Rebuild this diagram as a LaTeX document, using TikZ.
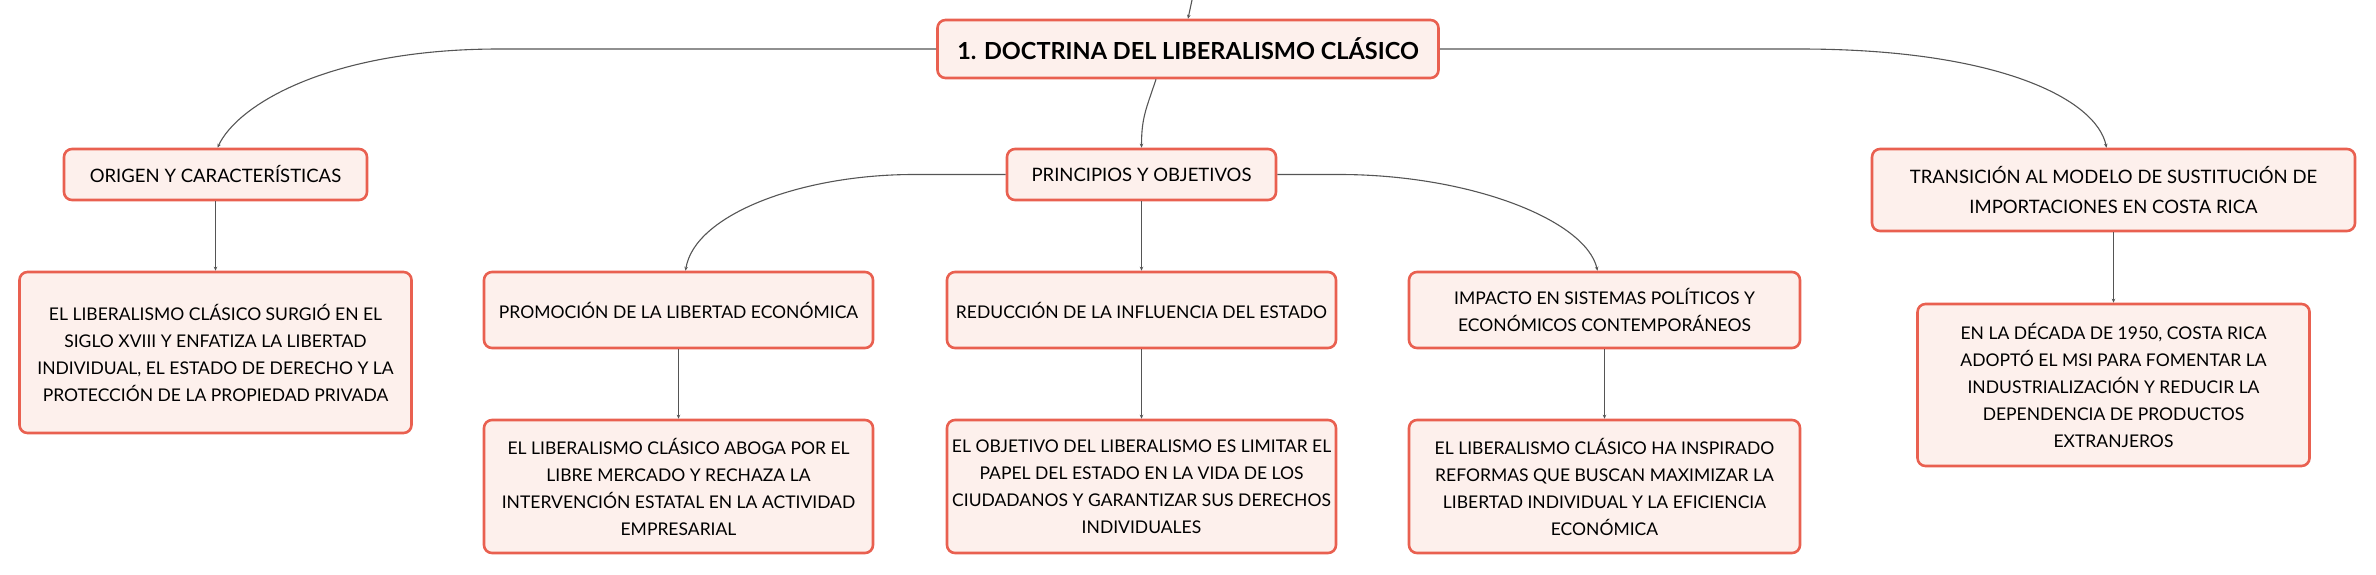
\documentclass[tikz,border=0pt]{standalone}
\usepackage{fontspec}
\setmainfont{Lato}
\definecolor{map_border}{RGB}{233, 96, 80}
\definecolor{map_fill}{RGB}{253, 240, 236}
\definecolor{map_line}{RGB}{85, 85, 85}
\usetikzlibrary{arrows.meta, calc}

\begin{document}
\begin{tikzpicture}[x=1pt, y=-1pt,
        box/.style={rectangle, rounded corners=8pt, draw=map_border, fill=map_fill,
                    line width=2.6pt, align=center, inner sep=0pt,
                    font=\fontsize{17.5}{27}\selectfont},
        link/.style={-{Stealth[length=4pt, width=3.5pt]}, line width=1.1pt, map_line},
      ]
        \useasboundingbox (0,0) rectangle (2376,574);

        \node[box, minimum width=501pt, minimum height=58pt,
              font=\fontsize{23.5}{28}\selectfont\bfseries] (root) at (1188,49)
          {1. DOCTRINA DEL LIBERALISMO CLÁSICO};

        % Second level
        \node[box, minimum width=303pt, minimum height=51pt,
              font=\fontsize{18.5}{27}\selectfont] (orig) at (215.5,174.5)
          {ORIGEN Y CARACTERÍSTICAS};
        \node[box, minimum width=269pt, minimum height=51pt,
              font=\fontsize{18.5}{27}\selectfont] (prin) at (1141.5,174.5)
          {PRINCIPIOS Y OBJETIVOS};
        \node[box, minimum width=483pt, minimum height=82pt,
              font=\fontsize{18.5}{30}\selectfont] (trans) at (2113.5,190)
          {TRANSICIÓN AL MODELO DE SUSTITUCIÓN DE\\IMPORTACIONES EN COSTA RICA};

        % Third level
        \node[box, minimum width=389pt, minimum height=76pt] (prom) at (678.5,310)
          {PROMOCIÓN DE LA LIBERTAD ECONÓMICA};
        \node[box, minimum width=389pt, minimum height=76pt] (redu) at (1141.5,310)
          {REDUCCIÓN DE LA INFLUENCIA DEL ESTADO};
        \node[box, minimum width=391pt, minimum height=76pt] (impa) at (1604.5,310)
          {IMPACTO EN SISTEMAS POLÍTICOS Y\\ECONÓMICOS CONTEMPORÁNEOS};

        % Texts
        \node[box, minimum width=392pt, minimum height=161pt] (origT) at (215.5,352.5)
          {EL LIBERALISMO CLÁSICO SURGIÓ EN EL\\SIGLO XVIII Y ENFATIZA LA LIBERTAD\\
           INDIVIDUAL, EL ESTADO DE DERECHO Y LA\\PROTECCIÓN DE LA PROPIEDAD PRIVADA};
        \node[box, minimum width=389pt, minimum height=133pt] (promT) at (678.5,486.5)
          {EL LIBERALISMO CLÁSICO ABOGA POR EL\\LIBRE MERCADO Y RECHAZA LA\\
           INTERVENCIÓN ESTATAL EN LA ACTIVIDAD\\EMPRESARIAL};
        \node[box, minimum width=389pt, minimum height=133pt] (reduT) at (1141.5,486.5)
          {EL OBJETIVO DEL LIBERALISMO ES LIMITAR EL\\PAPEL DEL ESTADO EN LA VIDA DE LOS\\
           CIUDADANOS Y GARANTIZAR SUS DERECHOS\\INDIVIDUALES};
        \node[box, minimum width=391pt, minimum height=133pt] (impaT) at (1604.5,486.5)
          {EL LIBERALISMO CLÁSICO HA INSPIRADO\\REFORMAS QUE BUSCAN MAXIMIZAR LA\\
           LIBERTAD INDIVIDUAL Y LA EFICIENCIA\\ECONÓMICA};
        \node[box, minimum width=392pt, minimum height=162pt] (transT) at (2113.5,385)
          {EN LA DÉCADA DE 1950, COSTA RICA\\ADOPTÓ EL MSI PARA FOMENTAR LA\\
           INDUSTRIALIZACIÓN Y REDUCIR LA\\DEPENDENCIA DE PRODUCTOS\\EXTRANJEROS};

        % Connectors
        \coordinate (up) at (1192,0);
        \draw[link] (up) -- (root.north);
        \draw[link] (root.west) -- ++(-437,0)
          .. controls +(-170,0) and +(20,-43) .. ([xshift=2pt]orig.north);
        \draw[link] ([xshift=-32pt]root.south)
          .. controls +(-10,30) and +(0,-30) .. (prin.north);
        \draw[link] (root.east) -- ++(360,0)
          .. controls +(200,0) and +(-10,-48) .. ([xshift=-7pt]trans.north);

        \draw[link] (prin.west) -- ++(-92,0)
          .. controls +(-113,0) and +(9,-56) .. ([xshift=7pt]prom.north);
        \draw[link] (prin.south) -- (redu.north);
        \draw[link] (prin.east) -- ++(62,0)
          .. controls +(130,0) and +(-12,-51) .. ([xshift=-7pt]impa.north);

        \draw[link] (orig.south)  -- (origT.north);
        \draw[link] (prom.south)  -- (promT.north);
        \draw[link] (redu.south)  -- (reduT.north);
        \draw[link] (impa.south)  -- (impaT.north);
        \draw[link] (trans.south) -- (transT.north);
      \end{tikzpicture}
\end{document}
